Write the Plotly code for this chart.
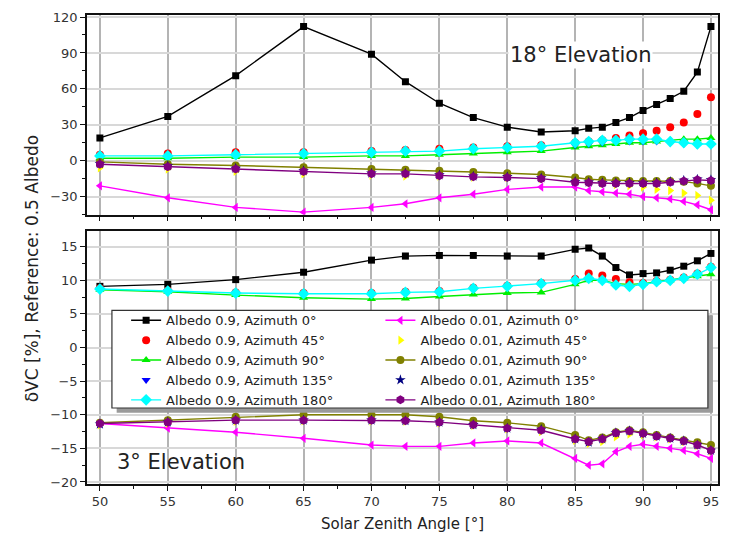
import plotly.graph_objects as go

# ---------------- data ----------------
sza = [50, 55, 60, 65, 70, 72.5, 75, 77.5, 80, 82.5, 85, 86, 87, 88, 89, 90, 91, 92, 93, 94, 95]

# 18 deg elevation (top panel)
top_a09_az0 = [19, 37, 71, 112, 89, 66, 48, 36, 28, 24, 25, 27, 28, 32, 36, 42, 47, 52, 58, 74, 112]
top_a09_az45 = [5, 6, 7, 7, 8, 9, 10, 11, 12, 13, 15, 16, 17, 19, 21, 23, 25, 28, 32, 39, 53]
top_a09_az90 = [2, 2, 3, 3, 4, 4, 5, 6, 7, 8, 11, 12, 13, 14, 15, 15, 16, 17, 18, 18, 19]
top_a09_az135 = [3, 3, 4, 5, 6, 7, 8, 9, 10, 11, 13, 14, 15, 16, 16, 16, 16, 15, 14, 13, 13]
top_a09_az180 = [4, 4, 5, 6, 7, 8, 8, 10, 11, 12, 15, 16, 17, 17, 18, 18, 18, 16, 15, 14, 14]
top_a001_az0 = [-21, -31, -39, -43, -39, -36, -31, -28, -24, -22, -22, -25, -26, -27, -28, -30, -31, -32, -34, -37, -41]
top_a001_az45 = [-6, -7, -9, -11, -12, -13, -13, -14, -14, -15, -16, -18, -19, -20, -21, -22, -24, -25, -27, -29, -33]
top_a001_az90 = [-1, -3, -4, -5.5, -7, -7.5, -8.5, -9.5, -10.5, -11.5, -14, -15.5, -16, -16.5, -17, -17, -17, -17, -17.5, -19, -21]
top_a001_az135 = [-2.5, -4.5, -6.5, -8.5, -10.5, -10.5, -12, -13, -13.5, -14.5, -17.5, -18, -18.5, -18.5, -18.5, -18.5, -18.5, -17.5, -16.5, -15.5, -16]
top_a001_az180 = [-3, -5, -7, -9, -11, -11, -12.5, -13.5, -14, -15, -18, -18.5, -19, -19, -19, -19, -19, -18, -17, -16, -16.5]

# 3 deg elevation (bottom panel)
bot_a09_az0 = [9.1, 9.4, 10.1, 11.2, 13.0, 13.6, 13.7, 13.7, 13.6, 13.6, 14.6, 14.8, 13.6, 11.9, 10.8, 11.0, 11.1, 11.5, 12.1, 12.9, 14.0]
bot_a09_az45 = [8.8, 8.5, 8.2, 8.1, 8.1, 8.3, 8.4, 8.9, 9.2, 9.6, 10.2, 11.0, 10.7, 10.2, 9.7, 9.6, 9.9, 10.1, 10.4, 11.0, 12.0]
bot_a09_az90 = [8.6, 8.3, 7.8, 7.4, 7.2, 7.3, 7.6, 7.9, 8.1, 8.2, 9.4, 10.0, 10.0, 9.5, 9.4, 9.5, 9.8, 10.0, 10.3, 10.6, 10.9]
bot_a09_az135 = [8.7, 8.4, 8.0, 7.9, 7.9, 8.1, 8.2, 8.7, 9.0, 9.4, 9.9, 10.2, 9.9, 9.2, 9.0, 9.3, 9.7, 9.9, 10.2, 10.8, 11.7]
bot_a09_az180 = [8.7, 8.4, 8.1, 8.0, 8.0, 8.2, 8.3, 8.8, 9.1, 9.5, 10.0, 10.3, 10.0, 9.3, 9.1, 9.4, 9.8, 10.0, 10.3, 10.9, 11.9]
bot_a001_az0 = [-11.3, -12.0, -12.6, -13.5, -14.5, -14.7, -14.7, -14.2, -13.9, -14.2, -16.5, -17.5, -17.3, -15.5, -14.7, -14.4, -14.7, -15.0, -15.3, -15.8, -16.5]
bot_a001_az45 = [-11.5, -11.3, -11.0, -10.9, -10.9, -11.0, -11.2, -11.6, -12.1, -12.5, -13.8, -14.3, -14.0, -13.3, -12.9, -13.0, -13.3, -13.6, -14.0, -14.6, -15.4]
bot_a001_az90 = [-11.2, -10.8, -10.3, -10.0, -10.0, -10.0, -10.3, -10.9, -11.2, -11.7, -13.0, -13.8, -13.4, -12.6, -12.3, -12.6, -13.0, -13.4, -13.8, -14.1, -14.5]
bot_a001_az135 = [-11.4, -11.1, -10.8, -10.8, -10.8, -10.9, -11.1, -11.5, -12.0, -12.2, -13.6, -14.1, -13.6, -12.7, -12.4, -12.8, -13.2, -13.5, -13.9, -14.5, -15.3]
bot_a001_az180 = [-11.3, -11.1, -10.8, -10.8, -10.8, -10.9, -11.1, -11.5, -12.0, -12.3, -13.6, -14.0, -13.6, -12.7, -12.4, -12.8, -13.2, -13.5, -13.9, -14.5, -15.3]

names = [
    "Albedo 0.9, Azimuth 0°", "Albedo 0.9, Azimuth 45°", "Albedo 0.9, Azimuth 90°",
    "Albedo 0.9, Azimuth 135°", "Albedo 0.9, Azimuth 180°",
    "Albedo 0.01, Azimuth 0°", "Albedo 0.01, Azimuth 45°", "Albedo 0.01, Azimuth 90°",
    "Albedo 0.01, Azimuth 135°", "Albedo 0.01, Azimuth 180°",
]
top_series = [top_a09_az0, top_a09_az45, top_a09_az90, top_a09_az135, top_a09_az180,
              top_a001_az0, top_a001_az45, top_a001_az90, top_a001_az135, top_a001_az180]
bot_series = [bot_a09_az0, bot_a09_az45, bot_a09_az90, bot_a09_az135, bot_a09_az180,
              bot_a001_az0, bot_a001_az45, bot_a001_az90, bot_a001_az135, bot_a001_az180]

# ---------------- styles ----------------
colors = ["#000000", "#ff0000", "#00ee00", "#0000ff", "#00ffff",
          "#ff00ff", "#ffff00", "#808000", "#000080", "#800080"]
symbols = ["square", "circle", "triangle-up", "triangle-down", "diamond",
           "triangle-left", "triangle-right", "circle", "star", "hexagon"]
modes = ["lines+markers", "markers", "lines+markers", "markers", "lines+markers",
         "lines+markers", "markers", "lines+markers", "markers", "lines+markers"]
msizes = [7, 8, 8, 8, 9, 8, 8, 8, 8, 9]

FONT = "DejaVu Sans"
fig = go.Figure()

for i in range(10):
    leg = "legend" if i < 5 else "legend2"
    for panel, series in (("top", top_series), ("bot", bot_series)):
        fig.add_trace(go.Scatter(
            x=sza, y=series[i], name=names[i], mode=modes[i],
            line=dict(color=colors[i], width=1.4),
            marker=dict(symbol=symbols[i], color=colors[i], size=msizes[i], line=dict(width=0)),
            xaxis="x" if panel == "top" else "x2",
            yaxis="y" if panel == "top" else "y2",
            legendgroup=names[i], showlegend=(panel == "top"), legend=leg,
        ))

axis_common = dict(
    showline=True, linecolor="#111111", linewidth=1.6, mirror=True,
    ticks="outside", ticklen=5, tickwidth=1.2, tickcolor="#111111",
    tickfont=dict(family=FONT, size=13, color="#333333"),
    zeroline=False,
)

XR = [49.05, 95.52]
fig.update_layout(
    width=730, height=540,
    margin=dict(l=87, r=10, t=15, b=55),
    paper_bgcolor="white", plot_bgcolor="white",
    font=dict(family=FONT, color="#222222"),
    xaxis=dict(domain=[0, 1], range=XR, anchor="y", dtick=5, showticklabels=False,
               showgrid=True, gridcolor="#b4b4b4", gridwidth=1.6,
               minor=dict(ticks="outside", ticklen=3, dtick=2.5, tickcolor="#111111"),
               **axis_common),
    yaxis=dict(domain=[0.5745, 1], range=[-45, 121.7], anchor="x", dtick=30,
               showgrid=True, gridcolor="#d8d8d8", gridwidth=2,
               minor=dict(ticks="outside", ticklen=3, dtick=15, tickcolor="#111111"),
               **axis_common),
    xaxis2=dict(domain=[0, 1], range=XR, anchor="y2", dtick=5,
                showgrid=True, gridcolor="#b4b4b4", gridwidth=1.6,
                minor=dict(ticks="outside", ticklen=3, dtick=2.5, tickcolor="#111111"),
                title=dict(text="Solar Zenith Angle [°]", font=dict(family=FONT, size=15, color="#222222"),
                           standoff=10),
                **axis_common),
    yaxis2=dict(domain=[0, 0.5404], range=[-20.3, 17.4], anchor="x2", dtick=5,
                showgrid=True, gridcolor="#d8d8d8", gridwidth=2,
                minor=dict(ticks="outside", ticklen=3, dtick=2.5, tickcolor="#111111"),
                **axis_common),
    legend=dict(x=0.062, y=0.381, xanchor="left", yanchor="top", bgcolor="rgba(0,0,0,0)",
                borderwidth=0, font=dict(family=FONT, size=13, color="#222222"),
                tracegroupgap=0),
    legend2=dict(x=0.465, y=0.381, xanchor="left", yanchor="top", bgcolor="rgba(0,0,0,0)",
                 borderwidth=0, font=dict(family=FONT, size=13, color="#222222"),
                 tracegroupgap=0),
    shapes=[
        dict(type="rect", xref="paper", yref="paper", x0=0.047, x1=0.992, y0=0.152, y1=0.360,
             fillcolor="#9a9a9a", line=dict(width=0), layer="above"),
        dict(type="rect", xref="paper", yref="paper", x0=0.0395, x1=0.984, y0=0.162, y1=0.370,
             fillcolor="white", line=dict(color="#333333", width=1.2), layer="above"),
    ],
    annotations=[
        dict(text="18° Elevation", x=85.4, y=88, xref="x", yref="y", showarrow=False,
             font=dict(family=FONT, size=21, color="#222222"), bgcolor="white"),
        dict(text="3° Elevation", x=56.0, y=-17.0, xref="x2", yref="y2", showarrow=False,
             font=dict(family=FONT, size=21, color="#222222")),
        dict(text="δVC [%], Reference: 0.5 Albedo", x=-0.106, y=0.46, xref="paper", yref="paper",
             textangle=-90, showarrow=False, font=dict(family=FONT, size=17, color="#222222")),
    ],
)

fig.write_html("out.html")
